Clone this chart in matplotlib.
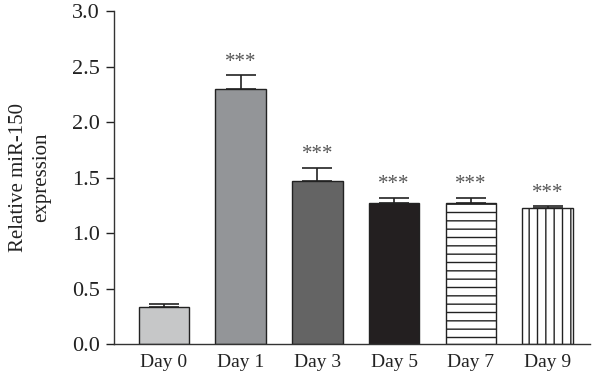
import matplotlib

matplotlib.use("Agg")
import matplotlib.pyplot as plt
import numpy as np

days = ["Day 0", "Day 1", "Day 3", "Day 5", "Day 7", "Day 9"]
expression = [0.33, 2.30, 1.47, 1.27, 1.27, 1.23]
errors = [0.03, 0.12, 0.12, 0.05, 0.05, 0.01]
stars = ["", "***", "***", "***", "***", "***"]

fills = ["#c6c7c8", "#939598", "#646464", "#231f20", "white", "white"]
hatches = [None, None, None, None, "--", "||"]

plt.rcParams["font.family"] = ["Liberation Serif", "DejaVu Serif"]
plt.rcParams["hatch.linewidth"] = 1.0
plt.rcParams["hatch.color"] = "#222222"

fig = plt.figure(figsize=(6.0, 3.79), dpi=100)
ax = fig.add_axes([0.19, 0.092, 0.793, 0.879])

x = np.arange(len(days))
ax.bar(x, expression, width=0.66, color=fills, edgecolor="#222222",
       linewidth=1.0, hatch=hatches, zorder=2)
ax.errorbar(x, expression, yerr=[np.zeros(len(errors)), errors], fmt="none",
            ecolor="#222222", elinewidth=1.2, capsize=11, capthick=1.2, zorder=1)

for xi, v, e, s in zip(x, expression, errors, stars):
    if s:
        ax.text(xi, v + e + 0.03, s, ha="center", va="bottom", fontsize=15,
                color="#555555")

ax.set_xlim(-0.65, 5.55)
ax.set_ylim(0, 3.0)
ax.set_yticks(np.arange(0, 3.01, 0.5))
ax.set_yticklabels([f"{t:.1f}" for t in np.arange(0, 3.01, 0.5)])
ax.set_xticks(x)
ax.set_xticklabels(days)
ax.tick_params(axis="x", length=0, pad=7, labelsize=14, colors="#222222")
ax.tick_params(axis="y", length=6, width=1, pad=4, labelsize=16, colors="#222222")
ax.set_ylabel("Relative miR-150\nexpression", fontsize=15, color="#222222",
              labelpad=15, linespacing=1.3)

for side in ["top", "right"]:
    ax.spines[side].set_visible(False)
for side in ["left", "bottom"]:
    ax.spines[side].set_color("#333333")
    ax.spines[side].set_linewidth(1.0)

fig.savefig("out.png", dpi=100)
